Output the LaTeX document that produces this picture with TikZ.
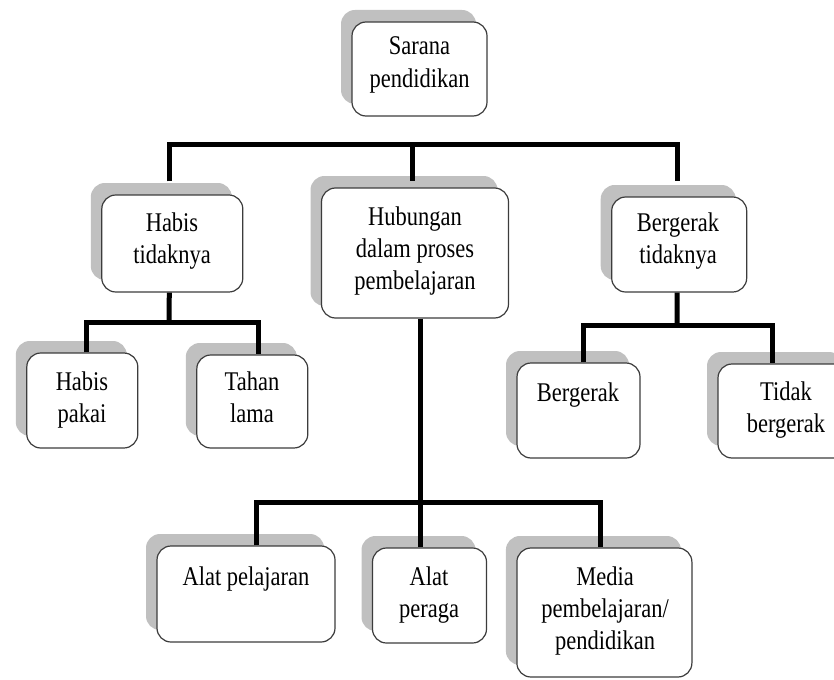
\documentclass[tikz,border=0pt]{standalone}
\usepackage{fontspec}
\setmainfont{Liberation Serif}
\usepackage{graphicx}
\usetikzlibrary{shadows}
\definecolor{shadowgray}{RGB}{192,192,192}
\definecolor{edgegray}{RGB}{60,60,60}
\newcommand\boxtext[1]{\scalebox{1}[1.2]{\begin{tabular}[t]{@{}c@{}}#1\end{tabular}}}
\begin{document}
\begin{tikzpicture}[x=1pt,y=-1pt,
  box/.style={draw=edgegray, line width=1.2pt, rounded corners=14pt, fill=white,
    drop shadow={shadow xshift=-11pt, shadow yshift=12pt, fill=shadowgray, opacity=1},
    inner sep=0pt},
  lbl/.style={anchor=base, inner sep=0pt, font=\fontsize{22.5}{26.7}\selectfont},
  conn/.style={line width=5pt, black}]
\clip (0,0) rectangle (834,679);
\useasboundingbox (0,0) rectangle (834,679);

% boxes
\node[box, minimum width=135pt, minimum height=94pt] (sp) at (419.5,69) {};
\node[box, minimum width=141pt, minimum height=97pt] (ht) at (172.3,243.5) {};
\node[box, minimum width=187pt, minimum height=130pt] (hub) at (415,253) {};
\node[box, minimum width=135pt, minimum height=95pt] (bt) at (679.2,244.5) {};
\node[box, minimum width=111pt, minimum height=95pt] (hp) at (82.3,400.5) {};
\node[box, minimum width=111pt, minimum height=93pt] (tl) at (252.3,401.5) {};
\node[box, minimum width=123pt, minimum height=95pt] (bg) at (578.5,410.5) {};
\node[box, minimum width=136pt, minimum height=94pt] (tb) at (786,411) {};
\node[box, minimum width=178pt, minimum height=96pt] (apl) at (246,594) {};
\node[box, minimum width=114pt, minimum height=95pt] (ap) at (429.5,595.5) {};
\node[box, minimum width=175pt, minimum height=129pt] (med) at (604.4,612.5) {};

% texts
\node[lbl] (sp-t) at (419.5,55) {\boxtext{Sarana\\pendidikan}};
\node[lbl] (ht-t) at (172,231) {\boxtext{Habis\\tidaknya}};
\node[lbl] (hub-t) at (415,225) {\boxtext{Hubungan\\dalam proses\\pembelajaran}};
\node[lbl] (bt-t) at (678,231) {\boxtext{Bergerak\\tidaknya}};
\node[lbl] (hp-t) at (82,390) {\boxtext{Habis\\pakai}};
\node[lbl] (tl-t) at (252,390) {\boxtext{Tahan\\lama}};
\node[lbl] (bg-t) at (578,401) {\boxtext{Bergerak}};
\node[lbl] (tb-t) at (786,400) {\boxtext{Tidak\\bergerak}};
\node[lbl] (apl-t) at (246,585) {\boxtext{Alat pelajaran}};
\node[lbl] (ap-t) at (429,585) {\boxtext{Alat\\peraga}};
\node[lbl] (med-t) at (605,585) {\boxtext{Media\\pembelajaran/\\pendidikan}};

% connectors
\coordinate (bus1) at (412,145);
\coordinate (bus2) at (169,322);
\coordinate (bus3) at (420,502);
\coordinate (bus4) at (677,325);

\draw[conn] ([xshift=-3pt,yshift=13pt]ht.north) |- (bus1) -| ([xshift=-2pt,yshift=15pt]bt.north);
\draw[conn] (bus1) -- ([xshift=-3pt,yshift=6pt]hub.north);

\draw[conn] ([xshift=-3pt]ht.south) -- (bus2);
\draw[conn] ([xshift=4pt]hp.north) |- (bus2) -| ([xshift=6pt]tl.north);

\draw[conn] ([xshift=-2pt]bt.south) -- (bus4);
\draw[conn] ([xshift=5pt]bg.north) |- (bus4) -| ([xshift=-14pt]tb.north);

\draw[conn] ([xshift=5pt]hub.south) -- ([xshift=-9.5pt]ap.north);
\draw[conn] ([xshift=10pt]apl.north) |- (bus3) -| ([xshift=-4pt]med.north);
\end{tikzpicture}
\end{document}
